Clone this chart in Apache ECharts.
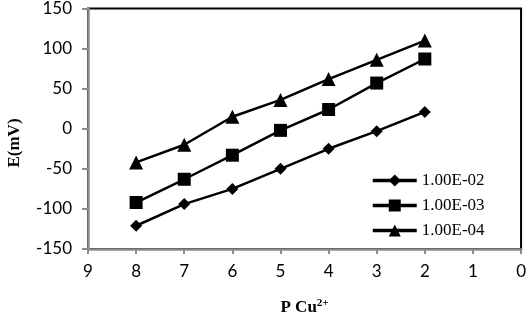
<!DOCTYPE html>
<html>
<head>
<meta charset="utf-8">
<script src="https://cdn.jsdelivr.net/npm/echarts@6/dist/echarts.min.js"></script>
<style>
    html, body { margin: 0; padding: 0; background: #fff; }
    #chart { width: 529px; height: 321px; }
</style>
</head>
<body>
<div id="chart"></div>
<script>
// pCu values (x) and potentials E(mV) for each concentration
const pCu = [8, 7, 6, 5, 4, 3, 2];
const seriesNames = ['1.00E-02', '1.00E-03', '1.00E-04'];
const e1 = [-121, -94, -75, -50, -25, -3, 21];
const e2 = [-92, -63, -33, -2, 24, 57, 87];
const e3 = [-42, -20, 15, 36, 62, 86, 110];
const yTicks = [-150, -100, -50, 0, 50, 100, 150];
const xTicks = [0, 1, 2, 3, 4, 5, 6, 7, 8, 9];

const symbols = ['diamond', 'rect', 'triangle'];
const symbolSizes = [12, 13, 14];

function pairs(ys) {
    return pCu.map((x, i) => [x, ys[i]]);
}

const chart = echarts.init(document.getElementById('chart'));
const option = {
    animation: false,
    grid: {
        left: 88,
        right: 5,
        top: 8,
        bottom: 68,
        show: true,
        borderColor: '#000',
        borderWidth: 2
    },
    legend: {
        orient: 'vertical',
        left: 366,
        top: 167,
        itemWidth: 44,
        itemHeight: 15,
        itemGap: 8,
        data: seriesNames,
        lineStyle: { width: 3.5, color: '#000' },
        textStyle: {
            fontFamily: 'Liberation Serif',
            fontSize: 17,
            color: '#000'
        }
    },
    xAxis: {
        type: 'value',
        min: xTicks[0],
        max: xTicks[xTicks.length - 1],
        interval: 1,
        inverse: true,
        splitLine: { show: false },
        axisLine: { onZero: false, lineStyle: { color: '#8c8c8c', width: 2.5 } },
        axisTick: { length: 5, lineStyle: { color: '#8c8c8c', width: 2 } },
        axisLabel: {
            margin: 14,
            fontFamily: 'Lato',
            fontSize: 17,
            color: '#000'
        },
        name: '{b|P Cu}{s|2+}',
        nameLocation: 'middle',
        nameGap: 49,
        nameTextStyle: {
            rich: {
                b: { fontFamily: 'Liberation Serif', fontWeight: 'bold', fontSize: 17, color: '#000' },
                s: { fontFamily: 'Liberation Serif', fontWeight: 'bold', fontSize: 11, color: '#000', verticalAlign: 'top', padding: [0, 0, 8, 0] }
            }
        }
    },
    yAxis: {
        type: 'value',
        min: yTicks[0],
        max: yTicks[yTicks.length - 1],
        interval: 50,
        splitLine: { show: false },
        axisLine: { onZero: false, lineStyle: { color: '#8c8c8c', width: 2.5 } },
        axisTick: { length: 6, lineStyle: { color: '#8c8c8c', width: 2 } },
        axisLabel: {
            margin: 16,
            fontFamily: 'Lato',
            fontSize: 17,
            color: '#000'
        }
    },
    graphic: [{
        type: 'text',
        x: 6,
        y: 143,
        rotation: Math.PI / 2,
        style: {
            text: 'E(mV)',
            fontFamily: 'Liberation Serif',
            fontWeight: 'bold',
            fontSize: 17,
            fill: '#000',
            align: 'center',
            verticalAlign: 'top'
        }
    }],
    series: [e1, e2, e3].map((ys, i) => ({
        name: seriesNames[i],
        type: 'line',
        data: pairs(ys),
        symbol: symbols[i],
        symbolSize: symbolSizes[i],
        itemStyle: { color: '#000' },
        lineStyle: { color: '#000', width: 2.5 }
    }))
};
chart.setOption(option);
</script>
</body>
</html>
